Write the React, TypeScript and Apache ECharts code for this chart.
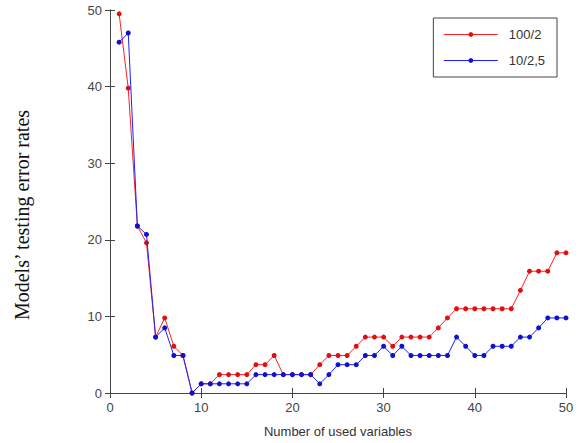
import React, { useEffect, useRef } from "react";
import * as echarts from "echarts";

const xValues = [
  1, 2, 3, 4, 5, 6, 7, 8, 9, 10, 11, 12, 13, 14, 15, 16, 17, 18, 19, 20, 21, 22, 23, 24, 25,
  26, 27, 28, 29, 30, 31, 32, 33, 34, 35, 36, 37, 38, 39, 40, 41, 42, 43, 44, 45, 46, 47, 48, 49, 50,
];

const red100_2 = [
  49.5, 39.8, 21.8, 19.6, 7.3, 9.8, 6.1, 4.9, 0, 1.2, 1.2, 2.4, 2.4, 2.4, 2.4, 3.7, 3.7, 4.9, 2.4, 2.4,
  2.4, 2.4, 3.7, 4.9, 4.9, 4.9, 6.1, 7.3, 7.3, 7.3, 6.1, 7.3, 7.3, 7.3, 7.3, 8.5, 9.8, 11.0, 11.0, 11.0,
  11.0, 11.0, 11.0, 11.0, 13.4, 15.9, 15.9, 15.9, 18.3, 18.3,
];

const blue10_2_5 = [
  45.8, 47.0, 21.8, 20.7, 7.3, 8.5, 4.9, 4.9, 0, 1.2, 1.2, 1.2, 1.2, 1.2, 1.2, 2.4, 2.4, 2.4, 2.4, 2.4,
  2.4, 2.4, 1.2, 2.4, 3.7, 3.7, 3.7, 4.9, 4.9, 6.1, 4.9, 6.1, 4.9, 4.9, 4.9, 4.9, 4.9, 7.3, 6.1, 4.9,
  4.9, 6.1, 6.1, 6.1, 7.3, 7.3, 8.5, 9.8, 9.8, 9.8,
];

const seriesNames = ["100/2", "10/2,5"];
const xTitle = "Number of used variables";
const yTitle = "Models\u2019 testing error rates";

export default function App() {
  const ref = useRef<HTMLDivElement>(null);
  useEffect(() => {
    if (!ref.current) return;
    const chart = echarts.init(ref.current, null, { renderer: "svg" });
    const axisColor = "#444";
    const labelStyle = { color: "#444", fontSize: 13, fontFamily: "Liberation Sans, Arial, sans-serif" };
    chart.setOption({
      animation: false,
      backgroundColor: "#fff",
      grid: { left: 110, right: 19, top: 10, bottom: 50 },
      legend: {
        top: 18,
        right: 28,
        orient: "vertical",
        data: seriesNames,
        backgroundColor: "#fff",
        borderColor: "#444",
        borderWidth: 1,
        borderRadius: 0,
        padding: [9, 12, 9, 10],
        itemGap: 11,
        itemWidth: 54,
        itemHeight: 6,
        lineStyle: { width: 1 },
        textStyle: { ...labelStyle, color: "#333", padding: [0, 0, 0, 6], lineHeight: 15 },
      },
      xAxis: [
        {
          type: "value",
          min: 0,
          max: 50,
          interval: 10,
          position: "bottom",
          name: xTitle,
          nameLocation: "middle",
          nameGap: 32,
          nameTextStyle: { ...labelStyle, color: "#333" },
          axisLine: { lineStyle: { color: axisColor, width: 1 } },
          axisTick: { inside: true, length: 5, lineStyle: { color: axisColor } },
          axisLabel: { ...labelStyle, margin: 8 },
          splitLine: { show: false },
        },
        {
          type: "value",
          min: 0,
          max: 50,
          interval: 10,
          position: "top",
          axisLine: { lineStyle: { color: axisColor, width: 1 } },
          axisTick: { inside: true, length: 5, lineStyle: { color: axisColor } },
          axisLabel: { show: false },
          splitLine: { show: false },
        },
      ],
      yAxis: [
        {
          type: "value",
          min: 0,
          max: 50,
          interval: 10,
          position: "left",
          axisLine: { show: true, lineStyle: { color: axisColor, width: 1 } },
          axisTick: { show: true, inside: true, length: 5, lineStyle: { color: axisColor } },
          axisLabel: { ...labelStyle, margin: 8 },
          splitLine: { show: false },
        },
        {
          type: "value",
          min: 0,
          max: 50,
          interval: 10,
          position: "right",
          axisLine: { show: true, lineStyle: { color: axisColor, width: 1 } },
          axisTick: { show: true, inside: true, length: 5, lineStyle: { color: axisColor } },
          axisLabel: { show: false },
          splitLine: { show: false },
        },
      ],
      graphic: [
        {
          type: "text",
          x: 22,
          y: 215,
          rotation: Math.PI / 2,
          style: {
            text: yTitle,
            fontSize: 20,
            fontFamily: "Liberation Serif, Times New Roman, serif",
            fill: "#111",
            align: "center",
            verticalAlign: "middle",
          },
        },
      ],
      series: [
        {
          name: seriesNames[0],
          type: "line",
          data: xValues.map((x, i) => [x, red100_2[i]]),
          symbol: "circle",
          symbolSize: 5,
          showSymbol: true,
          lineStyle: { color: "#ff2020", width: 1 },
          itemStyle: { color: "#e01010" },
          z: 2,
        },
        {
          name: seriesNames[1],
          type: "line",
          data: xValues.map((x, i) => [x, blue10_2_5[i]]),
          symbol: "circle",
          symbolSize: 5,
          showSymbol: true,
          lineStyle: { color: "#2020ff", width: 1 },
          itemStyle: { color: "#1010d0" },
          z: 3,
        },
      ],
    });
    return () => chart.dispose();
  }, []);
  return (
    <div
      ref={ref}
      style={{ position: "fixed", left: 0, top: 0, width: 585, height: 443, background: "#fff" }}
    />
  );
}
